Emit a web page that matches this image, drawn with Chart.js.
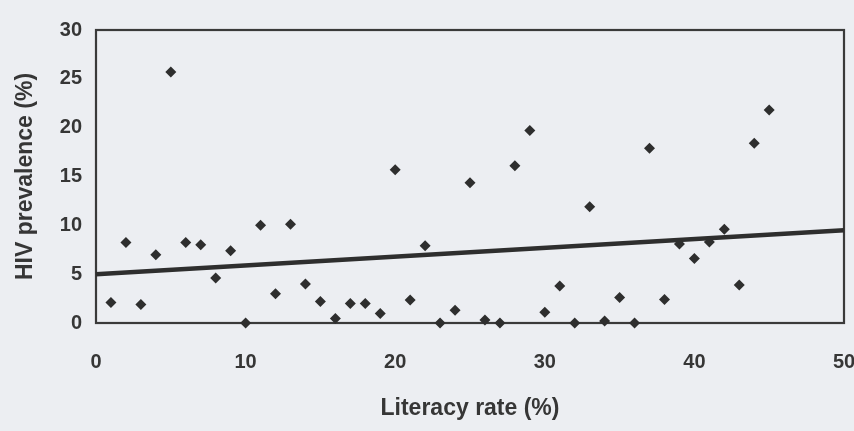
<!DOCTYPE html>
<html>
<head>
<meta charset="utf-8">
<script src="https://cdn.jsdelivr.net/npm/chart.js@4/dist/chart.umd.min.js"></script>
<style>
  html, body { margin: 0; padding: 0; background: #eceef2; }
  #wrap { width: 854px; height: 431px; }
</style>
</head>
<body>
<div id="wrap"><canvas id="c" width="854" height="431"></canvas></div>
<script>
// Literacy rate (%) and HIV prevalence (%) per country
const literacy = [1,2,3,4,5,6,7,8,9,10,11,12,13,14,15,16,17,18,19,20,21,22,23,24,25,26,27,28,29,30,31,32,33,34,35,36,37,38,39,40,41,42,43,44,45];
const prevalence = [2.1,8.25,1.9,7.0,25.7,8.25,8.0,4.6,7.4,0,10.0,3.0,10.1,4.0,2.2,0.45,2.0,2.0,0.96,15.7,2.36,7.9,0,1.3,14.35,0.3,0,16.1,19.7,1.1,3.8,0,11.9,0.2,2.6,0,17.9,2.4,8.1,6.6,8.3,9.6,3.9,18.4,21.8];

// Fitted trend line, start and end
const trendX = [0, 50];
const trendY = [5.0, 9.5];

const xTicks = [0, 10, 20, 30, 40, 50];
const yTicks = [0, 5, 10, 15, 20, 25, 30];

const ink = '#2e2e2e';
const textInk = '#363636';
const fontFamily = 'Liberation Sans, Arial, sans-serif';

const points = literacy.map((x, i) => ({ x: x, y: prevalence[i] }));
const trend = trendX.map((x, i) => ({ x: x, y: trendY[i] }));

// Box around the plot area
const frame = {
  id: 'frame',
  beforeDatasetsDraw(chart) {
    const a = chart.chartArea;
    const ctx = chart.ctx;
    ctx.save();
    ctx.strokeStyle = '#3a3a3a';
    ctx.lineWidth = 2.2;
    ctx.strokeRect(a.left, a.top, a.right - a.left, a.bottom - a.top);
    ctx.restore();
  }
};

new Chart(document.getElementById('c'), {
  type: 'scatter',
  data: {
    datasets: [
      {
        label: 'Trend',
        type: 'line',
        data: trend,
        borderColor: ink,
        borderWidth: 4.5,
        pointRadius: 0,
        fill: false,
        clip: false,
        order: 2
      },
      {
        label: 'Countries',
        data: points,
        pointStyle: 'rectRot',
        pointRadius: 5.5,
        pointBackgroundColor: ink,
        pointBorderColor: ink,
        pointBorderWidth: 0,
        clip: false,
        order: 1
      }
    ]
  },
  options: {
    responsive: false,
    animation: false,
    layout: { padding: { top: 30, right: 10, left: 0, bottom: 0 } },
    plugins: { legend: { display: false }, tooltip: { enabled: false } },
    scales: {
      x: {
        type: 'linear',
        min: 0,
        max: 50,
        afterBuildTicks(scale) { scale.ticks = xTicks.map(v => ({ value: v })); },
        afterFit(scale) {
          scale.height = 108;
          scale.paddingLeft = 0;
          scale.paddingRight = 0;
        },
        grid: { display: false, drawTicks: false },
        border: { display: false },
        ticks: {
          padding: 27,
          color: textInk,
          font: { family: fontFamily, size: 20, weight: 'bold' }
        },
        title: {
          display: true,
          text: 'Literacy rate (%)',
          color: textInk,
          padding: { top: 0, bottom: 9 },
          font: { family: fontFamily, size: 23, weight: 'bold' }
        }
      },
      y: {
        type: 'linear',
        min: 0,
        max: 30,
        afterBuildTicks(scale) { scale.ticks = yTicks.map(v => ({ value: v })); },
        afterFit(scale) {
          scale.width = 96;
          scale.paddingTop = 0;
          scale.paddingBottom = 0;
        },
        grid: { display: false, drawTicks: false },
        border: { display: false },
        ticks: {
          padding: 14,
          color: textInk,
          font: { family: fontFamily, size: 20, weight: 'bold' }
        },
        title: {
          display: true,
          text: 'HIV prevalence (%)',
          color: textInk,
          padding: { top: 12, bottom: 0 },
          font: { family: fontFamily, size: 23, weight: 'bold' }
        }
      }
    }
  },
  plugins: [frame]
});
</script>
</body>
</html>
